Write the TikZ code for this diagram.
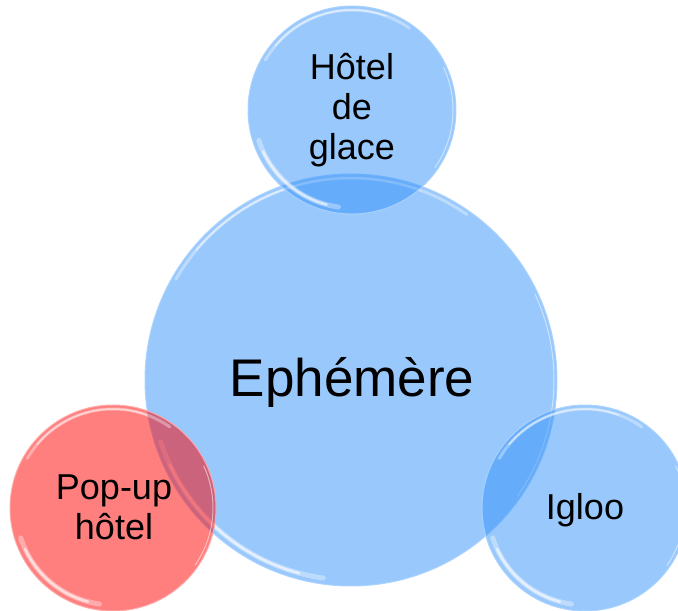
\documentclass[tikz,border=0pt]{standalone}
\usepackage{fontspec}
\setmainfont{Liberation Sans}
\usetikzlibrary{calc}
\definecolor{bblue}{RGB}{51,145,249}
\definecolor{bred}{RGB}{255,0,0}
\definecolor{rimblue}{RGB}{170,210,255}
\definecolor{rimred}{RGB}{255,170,170}
\newcommand\glossy[2]{%
  \draw[white, line width=3pt, opacity=0.35, line cap=round]
    ($(#1.center)+(150:#2-4)$) arc[start angle=150, end angle=55, radius=#2-4];
  \draw[white, line width=1.5pt, opacity=0.5, line cap=round]
    ($(#1.center)+(140:#2-4)$) arc[start angle=140, end angle=70, radius=#2-4];
  \draw[white, line width=5pt, opacity=0.35, line cap=round]
    ($(#1.center)+(198:#2-6)$) arc[start angle=198, end angle=262, radius=#2-6];
  \draw[white, line width=2.5pt, opacity=0.6, line cap=round]
    ($(#1.center)+(205:#2-6)$) arc[start angle=205, end angle=255, radius=#2-6];
  \draw[white, line width=1pt, opacity=0.5]
    ($(#1.center)+(-35:#2-3)$) arc[start angle=-35, end angle=25, radius=#2-3];
}
\begin{document}
\begin{tikzpicture}[x=1pt,y=1pt,
  bubble/.style={circle, inner sep=0pt, minimum size=#1, line width=1pt},
  bluebub/.style={bubble=#1, fill=bblue, fill opacity=0.5, draw=rimblue, draw opacity=0.9},
  redbub/.style={bubble=#1, fill=bred, fill opacity=0.5, draw=rimred, draw opacity=0.9},
  bigtxt/.style={font=\fontsize{53}{60}\selectfont, anchor=base, inner sep=0pt},
  smtxt/.style={font=\fontsize{36}{40}\selectfont, align=center, anchor=base, inner sep=0pt}
]
\useasboundingbox (0,0) rectangle (678,611);
\node[bluebub=412pt] (eph) at (351,231) {};
\glossy{eph}{206}
\node[bluebub=208pt] (glace) at (352,501) {};
\glossy{glace}{104}
\node[redbub=206pt] (popup) at (113,103) {};
\glossy{popup}{103}
\node[bluebub=206pt] (igloo) at (585,103) {};
\glossy{igloo}{103}
\node[bigtxt] (t1) at (352,214) {Ephémère};
\node[smtxt] (t2) at (352,451) {Hôtel\\de\\glace};
\node[smtxt] (t3) at (114,71) {Pop-up\\hôtel};
\node[smtxt] (t4) at (585,91) {Igloo};
\end{tikzpicture}
\end{document}
